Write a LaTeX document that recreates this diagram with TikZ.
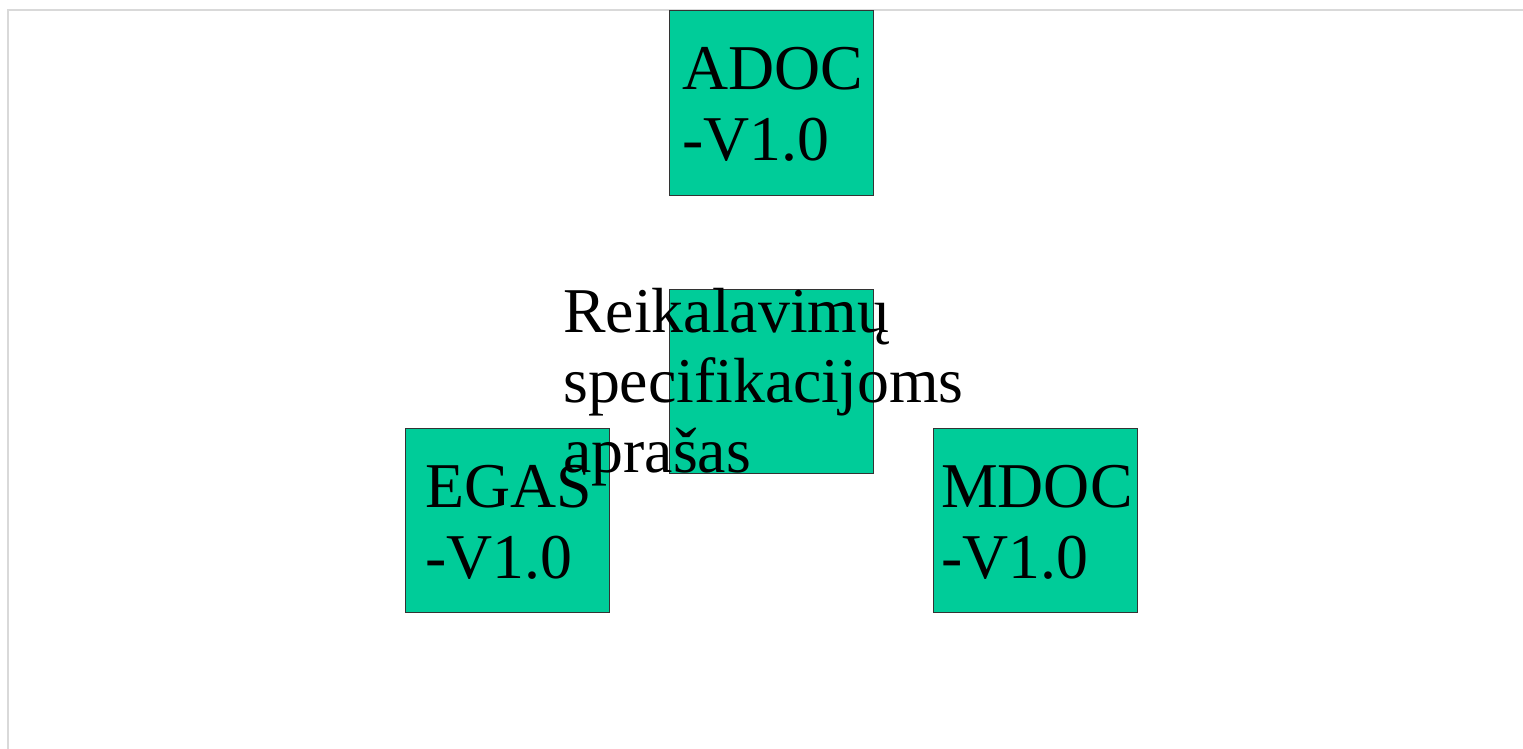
\documentclass[tikz,border=0pt]{standalone}
\usepackage{fontspec}
\setmainfont{Liberation Serif}
\definecolor{boxgreen}{HTML}{00CC99}
\definecolor{framegray}{HTML}{D9D9D9}
\begin{document}
\begin{tikzpicture}[x=1pt,y=-1pt,
  box/.style={draw=black!80, line width=0.8pt, fill=boxgreen, minimum width=204pt, minimum height=184.5pt, inner sep=0pt, anchor=north west},
  lbl/.style={font=\fontsize{63.8}{72}\selectfont, inner sep=0pt, anchor=base west},
  frame/.style={draw=framegray, line width=2pt}]
\useasboundingbox (0,0) rectangle (1523,749);
\coordinate (fa) at (8,749);
\coordinate (fb) at (8,10.5);
\coordinate (fc) at (1523,10.5);
\draw[frame] (fa) -- (fb) -- (fc);
% boxes
\node[box] (adoc) at (669,10.5) {};
\node[box] (rs) at (669,288.5) {};
\node[box] (egas) at (405,427.5) {};
\node[box] (mdoc) at (933,427.5) {};
% labels
\node[lbl] (adoc1) at (682,89.5) {ADOC};
\node[lbl] (adoc2) at (682,160.5) {-V1.0};
\node[lbl] (egas1) at (425,507) {EGAS};
\node[lbl] (egas2) at (425,578) {-V1.0};
\node[lbl] (mdoc1) at (941,507) {MDOC};
\node[lbl] (mdoc2) at (941,578) {-V1.0};
\node[lbl] (rs1) at (563,332) {Reikalavimų};
\node[lbl] (rs2) at (563,402) {specifikacijoms};
\node[lbl] (rs3) at (563,472) {aprašas};
\end{tikzpicture}
\end{document}
